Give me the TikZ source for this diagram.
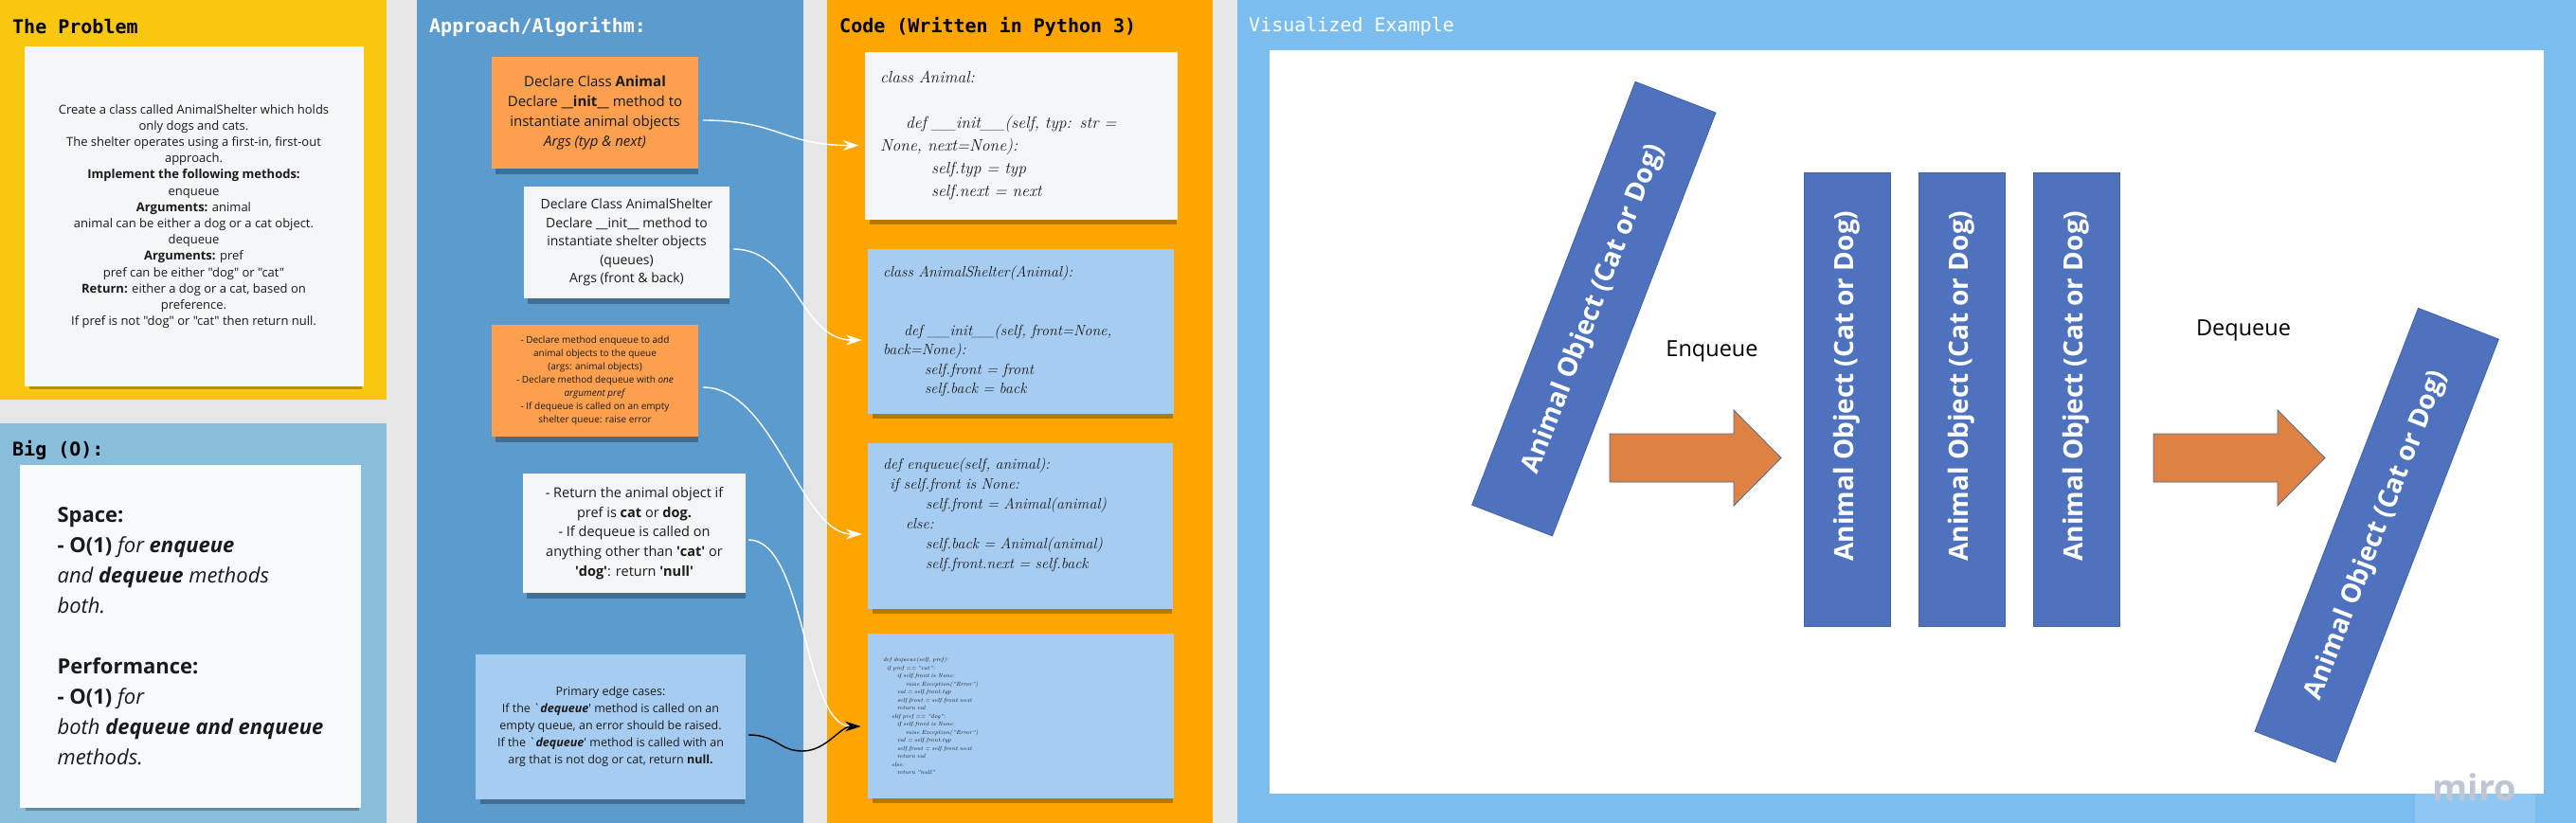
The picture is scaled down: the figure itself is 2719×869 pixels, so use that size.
\documentclass[tikz,border=0pt]{standalone}
\usepackage{fontspec}
\usepackage{tikz}
\usetikzlibrary{
  arrows.meta,
  positioning,
  shadows,
  calc
}
\usepackage{xcolor}
\newfontfamily\osans{Open Sans}
\newfontfamily\headmono{DejaVu Sans Mono}
\definecolor{boardgrey}{HTML}{E6E6E6}
\definecolor{probyellow}{HTML}{FAC710}
\definecolor{bigoblue}{HTML}{88BEDC}
\definecolor{algoblue}{HTML}{5B9BCE}
\definecolor{codeorange}{HTML}{FFA500}
\definecolor{visblue}{HTML}{7BBDEF}
\definecolor{noteorange}{HTML}{FCA050}
\definecolor{notewhite}{HTML}{F4F5F7}
\definecolor{noteblue}{HTML}{A7CCF1}
\definecolor{notetext}{HTML}{1A1A1A}
\definecolor{objblue}{HTML}{4E72BE}
\definecolor{objedge}{HTML}{41639F}
\definecolor{fatorange}{HTML}{DE8244}
\definecolor{fatedge}{HTML}{4F6A92}
\definecolor{mirogrey}{HTML}{BFC6D3}
\definecolor{miroback}{HTML}{8FC6F2}
\newcommand{\dunder}[1]{\_\_#1\_\_}
\newcommand{\sq}{\textquotesingle}
\newcommand{\fsz}[2]{\fontsize{#1}{#2}\selectfont}
\tikzset{
  paneltitle/.style={
    anchor=west,
    inner sep=0pt,
    font=\headmono\bfseries\fsz{20pt}{24pt}
  },
  note/.style={
    rectangle,
    inner sep=0pt,
    align=center,
    text=notetext,
    drop shadow={shadow xshift=2pt, shadow yshift=-7pt, opacity=0.28, fill=black, shadow scale=0.98}
  },
  orangenote/.style={note, fill=noteorange},
  whitenote/.style={note, fill=notewhite},
  bluenote/.style={note, fill=noteblue},
  codenote/.style={
    inner xsep=16pt,
    align=left,
    font=\rmfamily\itshape
  },
  queueobj/.style={
    rectangle,
    fill=objblue,
    draw=objedge,
    line width=0.8pt,
    text=white,
    inner sep=0pt,
    minimum width=479pt,
    minimum height=91pt,
    font=\osans\bfseries\fsz{28pt}{34pt}
  },
  queuelabel/.style={
    inner sep=0pt,
    font=\osans\fsz{23.5pt}{28pt}
  },
  fatarrow/.style={
    fill=fatorange,
    draw=fatedge,
    line width=0.8pt
  },
  link/.style={
    -{Stealth[length=17pt,width=11pt]},
    line width=1.4pt,
    draw=white
  },
  blacklink/.style={
    link,
    draw=black
  }
}

\begin{document}
\begin{tikzpicture}[x=1pt,y=-1pt]
\useasboundingbox (0,0) rectangle (2719,869);
\fill[boardgrey] (0,0) rectangle (2719,869);

% frames
\fill[probyellow] (0,0) rectangle (408,422);
\fill[bigoblue] (0,447) rectangle (408,869);
\fill[algoblue] (440,0) rectangle (848,869);
\fill[codeorange] (873,0) rectangle (1280,869);
\fill[visblue] (1306,0) rectangle (2719,869);
\fill[white] (1340,53) rectangle (2685,838);

\node[paneltitle] (probtitle) at (13,28) {The Problem};
\node[paneltitle] (bigotitle) at (13,475) {Big (O):};
\node[paneltitle, text=white] (algotitle) at (453,28) {Approach/Algorithm:};
\node[paneltitle] (codetitle) at (886,28) {Code (Written in Python 3)};
\node[paneltitle, font=\headmono\fsz{20pt}{24pt}, text=white] (vistitle) at (1318,28) {Visualized Example};

% the problem
\node[whitenote, minimum width=358pt, minimum height=359pt,
      font=\osans\fsz{13pt}{17.2pt}] (problem) at (204.5,228.5)
  {Create a class called AnimalShelter which holds\\
   only dogs and cats.\\
   The shelter operates using a first-in, first-out\\
   approach.\\
   \textbf{Implement the following methods:}\\
   enqueue\\
   \textbf{Arguments:} animal\\
   animal can be either a dog or a cat object.\\
   dequeue\\
   \textbf{Arguments:} pref\\
   pref can be either "dog" or "cat"\\
   \textbf{Return:} either a dog or a cat, based on\\
   preference.\\
   If pref is not "dog" or "cat" then return null.};

% big O
\node[whitenote, fill=notewhite!70!bigoblue!20!white, minimum width=360pt, minimum height=362pt,
      align=left, font=\osans\fsz{22pt}{32pt}] (bigo) at (201,672)
  {\textbf{Space:}\\
   \textbf{- O(1)} \textit{for \textbf{enqueue}}\\
   \textit{and \textbf{dequeue} methods}\\
   \textit{both.}\\[32pt]
   \textbf{Performance:}\\
   \textbf{- O(1)} \textit{for}\\
   \textit{both \textbf{dequeue and enqueue}}\\
   \textit{methods.}};

% approach notes
\node[orangenote, minimum width=218pt, minimum height=118pt,
      font=\osans\fsz{15pt}{21pt}] (animalnote) at (628,119)
  {Declare Class \textbf{Animal}\\
   Declare \textbf{\dunder{init}} method to\\
   instantiate animal objects\\
   \textit{Args (typ \& next)}};
\node[whitenote, minimum width=217pt, minimum height=118pt,
      font=\osans\fsz{14pt}{19.5pt}] (shelternote) at (661.5,256)
  {Declare Class AnimalShelter\\
   Declare \dunder{init} method to\\
   instantiate shelter objects\\
   (queues)\\
   Args (front \& back)};
\node[orangenote, minimum width=218pt, minimum height=118pt,
      font=\osans\fsz{10pt}{14pt}] (methodnote) at (628,402)
  {- Declare method enqueue to add\\
   animal objects to the queue\\
   (args: animal objects)\\
   - Declare method dequeue with \textit{one}\\
   \textit{argument pref}\\
   - If dequeue is called on an empty\\
   shelter queue: raise error};
\node[whitenote, minimum width=235pt, minimum height=126pt,
      font=\osans\fsz{14.5pt}{20.6pt}] (returnnote) at (669.5,563)
  {- Return the animal object if\\
   pref is \textbf{cat} or \textbf{dog.}\\
   - If dequeue is called on\\
   anything other than \textbf{\sq cat\sq} or\\
   \textbf{\sq dog\sq}: return \textbf{\sq null\sq}};
\node[bluenote, minimum width=285pt, minimum height=153pt,
      font=\osans\fsz{12.5pt}{18pt}] (edgenote) at (644.5,767.5)
  {Primary edge cases:\\
   If the `\textbf{\textit{dequeue}}' method is called on an\\
   empty queue, an error should be raised.\\
   If the `\textbf{\textit{dequeue}}' method is called with an\\
   arg that is not dog or cat, return \textbf{null.}};

% code notes
\node[whitenote, codenote, minimum width=330pt, minimum height=177pt, text width=298pt,
      font=\rmfamily\itshape\fsz{17.5pt}{24pt}] (animalcode) at (1078,143.5)
  {class Animal:\\[24pt]
   \hspace*{27pt}def \_\_init\_\_(self, typ: str =\\
   None, next=None):\\
   \hspace*{54pt}self.typ = typ\\
   \hspace*{54pt}self.next = next};
\node[bluenote, codenote, minimum width=323pt, minimum height=174pt, text width=291pt,
      font=\rmfamily\itshape\fsz{16pt}{20.5pt}] (sheltercode) at (1077.5,350)
  {class AnimalShelter(Animal):\\[41pt]
   \hspace*{22pt}def \_\_init\_\_(self, front=None,\\
   back=None):\\
   \hspace*{44pt}self.front = front\\
   \hspace*{44pt}self.back = back};
\node[bluenote, codenote, minimum width=322pt, minimum height=175pt, text width=290pt,
      font=\rmfamily\itshape\fsz{16pt}{21pt}] (enqueuecode) at (1077,555.5)
  {def enqueue(self, animal):\\
   \hspace*{7pt}if self.front is None:\\
   \hspace*{45pt}self.front = Animal(animal)\\
   \hspace*{24pt}else:\\
   \hspace*{45pt}self.back = Animal(animal)\\
   \hspace*{45pt}self.front.next = self.back\\[6pt]
   \mbox{}};
\node[bluenote, codenote, minimum width=321pt, minimum height=174pt, text width=291pt,
      font=\rmfamily\itshape\fsz{6pt}{8.5pt}] (dequeuecode) at (1077.5,756)
  {def dequeue(self, pref):\\
   \hspace*{4pt}if pref == "cat":\\
   \hspace*{15pt}if self.front is None:\\
   \hspace*{24pt}raise Exception("Error")\\
   \hspace*{15pt}val = self.front.typ\\
   \hspace*{15pt}self.front = self.front.next\\
   \hspace*{15pt}return val\\
   \hspace*{9pt}elif pref == "dog":\\
   \hspace*{15pt}if self.front is None:\\
   \hspace*{24pt}raise Exception("Error")\\
   \hspace*{15pt}val = self.front.typ\\
   \hspace*{15pt}self.front = self.front.next\\
   \hspace*{15pt}return val\\
   \hspace*{9pt}else:\\
   \hspace*{15pt}return "null"};

% links between notes and code
\coordinate (wavedip) at (847,793);
\draw[link] ([xshift=5pt,yshift=-8pt]animalnote.east) .. controls +(80,0) and +(-80,0) .. ([xshift=-6pt,yshift=-10pt]animalcode.west);
\draw[link] ([xshift=4pt,yshift=-7pt]shelternote.east) .. controls +(65,0) and +(-65,0) .. ([xshift=-6pt,yshift=-9pt]sheltercode.west);
\draw[link] ([xshift=5pt,yshift=-7pt]methodnote.east) .. controls +(75,0) and +(-65,0) .. ([xshift=-6pt,yshift=-8.5pt]enqueuecode.west);
\draw[link] ([xshift=3pt,yshift=-7pt]returnnote.east) .. controls +(60,0) and +(-60,0) .. ([xshift=-7pt,yshift=-11pt]dequeuecode.west);
\draw[blacklink] ([xshift=3pt,yshift=-8.5pt]edgenote.east) .. controls +(30,0) and +(-25,0) .. (wavedip)
  .. controls +(25,0) and +(-22,0) .. ([xshift=-7pt,yshift=-11pt]dequeuecode.west);

% visualized example
\node[queueobj, rotate=68.9] (inobj) at (1682.3,326.1) {Animal Object (Cat or Dog)};
\node[queueobj, rotate=90] (qa) at (1949.5,421.5) {\hspace*{28pt}Animal Object (Cat or Dog)};
\node[queueobj, rotate=90] (qb) at ([xshift=121pt]qa.center) {\hspace*{28pt}Animal Object (Cat or Dog)};
\node[queueobj, rotate=90] (qc) at ([xshift=121pt]qb.center) {\hspace*{28pt}Animal Object (Cat or Dog)};
\node[queueobj, rotate=68.9] (outobj) at (2508.7,565.2) {Animal Object (Cat or Dog)};

\draw[fatarrow] (1699,458) -- (1830,458) -- (1830,433) -- (1880,483.5) -- (1830,534) -- (1830,509) -- (1699,509) -- cycle;
\draw[fatarrow, xshift=574pt] (1699,458) -- (1830,458) -- (1830,433) -- (1880,483.5) -- (1830,534) -- (1830,509) -- (1699,509) -- cycle;
\node[queuelabel] (enq) at (1807,370.5) {Enqueue};
\node[queuelabel] (deq) at (2368,348.6) {Dequeue};

% watermark
\fill[miroback] (2549,838) rectangle (2676,869);
\node[inner sep=0pt, text=mirogrey, font=\osans\bfseries\fsz{38pt}{40pt}] (miro) at (2612,831) {miro};
\end{tikzpicture}
\end{document}
